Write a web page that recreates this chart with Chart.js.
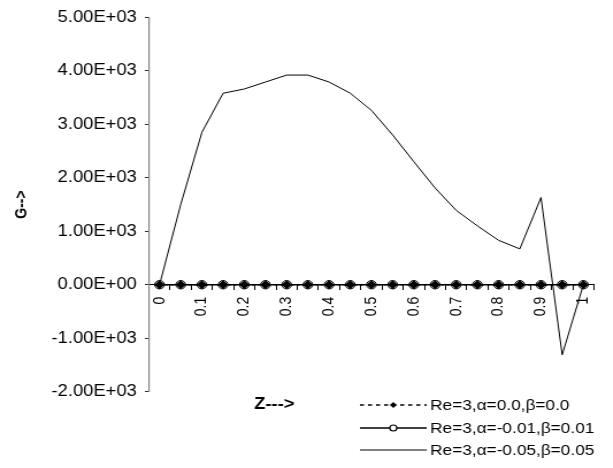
<!DOCTYPE html>
<html>
<head>
<meta charset="utf-8">
<script src="https://cdn.jsdelivr.net/npm/chart.js@4/dist/chart.umd.min.js"></script>
<style>
  html, body { margin: 0; padding: 0; background: #fff; overflow: hidden; }
  #wrap { width: 613px; height: 468px; }
  #c { display: block; transform: scaleX(1.15); transform-origin: 0 0; }
</style>
</head>
<body>
<div id="wrap"><canvas id="c" width="533" height="468"></canvas></div>
<script>
// Z positions along the channel
const zValues = ['0','0.05','0.1','0.15','0.2','0.25','0.3','0.35','0.4','0.45','0.5',
                 '0.55','0.6','0.65','0.7','0.75','0.8','0.85','0.9','0.95','1'];

// G for each parameter set
const gA0 = [0,0,0,0,0,0,0,0,0,0,0,0,0,0,0,0,0,0,0,0,0];
const gA001 = [0,0,0,0,0,0,0,0,0,0,0,0,0,0,0,0,0,0,0,0,0];
const gA005 = [0,1500,2850,3580,3660,3790,3920,3920,3790,3580,3260,
               2800,2300,1810,1390,1100,830,670,1630,-1310,0];

const seriesLabels = ['Re=3,\u03b1=0.0,\u03b2=0.0',
                      'Re=3,\u03b1=-0.01,\u03b2=0.01',
                      'Re=3,\u03b1=-0.05,\u03b2=0.05'];

const yMin = -2000, yMax = 5000, yStep = 1000;

function sci(v) {
  if (v === 0) return '0.00E+00';
  const e = Math.floor(Math.log10(Math.abs(v)));
  const m = v / Math.pow(10, e);
  return m.toFixed(2) + 'E' + (e < 0 ? '-' : '+') + String(Math.abs(e)).padStart(2, '0');
}

// Legend drawn below the plot: sample line + marker + label, plus the Z axis caption
const bottomLegend = {
  id: 'bottomLegend',
  afterDraw(chart) {
    const ctx = chart.ctx;
    const ds = chart.data.datasets;
    const x0 = 313, x1 = 371, mx = 342, tx = 374;
    const rows = [405, 428, 450];
    ctx.save();
    ctx.font = 'bold 16px "Liberation Sans", Arial, sans-serif';
    ctx.fillStyle = '#000';
    ctx.textBaseline = 'middle';
    ctx.textAlign = 'left';
    ctx.fillText('Z--->', 221, rows[0]);

    ds.forEach((d, i) => {
      const y = rows[i];
      ctx.beginPath();
      ctx.setLineDash(d.legendDash || []);
      ctx.lineWidth = d.borderWidth;
      ctx.strokeStyle = d.borderColor;
      ctx.moveTo(x0, y);
      ctx.lineTo(x1, y);
      ctx.stroke();
      ctx.setLineDash([]);
      if (d.pointStyle === 'rectRot') {
        ctx.beginPath();
        ctx.moveTo(mx, y - 3); ctx.lineTo(mx + 3, y); ctx.lineTo(mx, y + 3); ctx.lineTo(mx - 3, y);
        ctx.closePath();
        ctx.fillStyle = '#000';
        ctx.fill();
      } else if (d.pointStyle === 'circle') {
        ctx.beginPath();
        ctx.arc(mx, y, 3, 0, Math.PI * 2);
        ctx.fillStyle = '#fff';
        ctx.fill();
        ctx.lineWidth = 1.2;
        ctx.strokeStyle = '#000';
        ctx.stroke();
      }
      ctx.font = '15px "Liberation Sans", Arial, sans-serif';
      ctx.fillStyle = '#000';
      ctx.fillText(d.label, tx, y + 1);
    });
    ctx.restore();
  }
};

new Chart(document.getElementById('c'), {
  type: 'line',
  data: {
    labels: zValues,
    datasets: [
      {
        label: seriesLabels[0], data: gA0,
        borderColor: '#000', borderWidth: 1.5, borderDash: [2, 3], legendDash: [3.5, 3.5],
        pointStyle: 'rectRot', pointRadius: 4.6,
        pointBackgroundColor: '#000', pointBorderColor: '#000', pointBorderWidth: 0
      },
      {
        label: seriesLabels[1], data: gA001,
        borderColor: '#000', borderWidth: 1.5,
        pointStyle: 'circle', pointRadius: 4.2,
        pointBackgroundColor: '#fff', pointBorderColor: '#000', pointBorderWidth: 1
      },
      {
        label: seriesLabels[2], data: gA005,
        borderColor: '#000', borderWidth: 1,
        pointRadius: 0, pointStyle: false
      }
    ]
  },
  options: {
    responsive: false,
    animation: false,
    devicePixelRatio: 1,
    layout: { padding: { left: 10.7, right: 16.5, top: 17.3, bottom: 76.3 } },
    plugins: { legend: { display: false }, tooltip: { enabled: false } },
    elements: { line: { tension: 0 } },
    scales: {
      x: {
        type: 'category',
        position: { y: 0 },
        offset: true,
        grid: { display: true, drawOnChartArea: false, drawTicks: true, tickLength: 5, offset: true, color: '#000' },
        border: { display: true, color: '#000', width: 1 },
        ticks: {
          autoSkip: false, maxRotation: 90, minRotation: 90, padding: 7,
          color: '#000',
          font: { size: 14, family: '"Liberation Sans", Arial, sans-serif' },
          callback: (v, i) => (i % 2 === 0 ? zValues[i] : '')
        }
      },
      y: {
        min: yMin, max: yMax,
        afterFit(scale) { scale.width = 118.8; },
        grid: { display: true, drawOnChartArea: false, drawTicks: true, tickLength: 3.5, color: '#333' },
        border: { display: true, color: '#808080', width: 1.2 },
        ticks: {
          stepSize: yStep, padding: 7, color: '#000',
          font: { size: 16, family: '"Liberation Sans", Arial, sans-serif' },
          callback: v => sci(v)
        },
        title: {
          display: true, text: 'G-->', color: '#000', padding: { top: 0, bottom: 0 },
          font: { size: 14, weight: 'bold', family: '"Liberation Sans", Arial, sans-serif' }
        }
      }
    }
  },
  plugins: [bottomLegend]
});
</script>
</body>
</html>
